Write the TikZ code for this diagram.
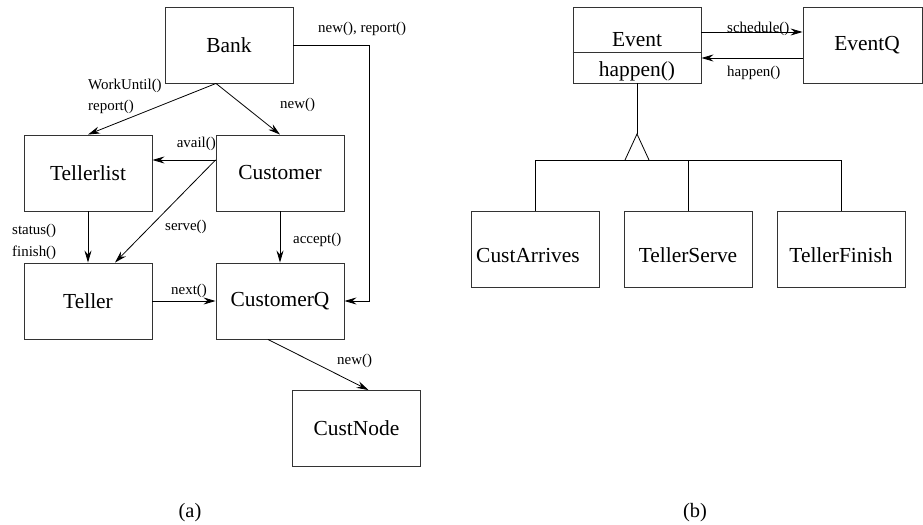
\documentclass[tikz,border=0pt]{standalone}
\usepackage{fontspec}
\setmainfont{Liberation Serif}
\usetikzlibrary{arrows.meta}
\begin{document}
\begin{tikzpicture}[x=1bp,y=-1bp,
  box/.style={draw=black!80, line width=0.9bp, minimum width=128bp, minimum height=76bp,
    inner sep=0pt, font=\fontsize{21.5}{24}\selectfont},
  lbl/.style={inner sep=0pt, font=\fontsize{15}{17}\selectfont},
  captext/.style={inner sep=0pt, font=\fontsize{20.5}{23}\selectfont},
  conn/.style={draw=black, line width=0.8bp},
  arr/.style={conn, -{Stealth[length=12bp, width=7bp, inset=4bp]}},
  hier/.style={draw=black, line width=0.8bp}]
\useasboundingbox (0,0) rectangle (923,525);

% ---------- (a) class collaboration ----------
\node[box] (bank) at (229,45) {Bank};
\node[box] (tl)   at (88,173) {Tellerlist};
\node[box] (cust) at (280,173) {Customer};
\node[box] (tel)  at (88,301) {Teller};
\node[box] (cq)   at (280,301) {CustomerQ};
\node[box] (cn)   at (356.5,428.5) {CustNode};

\coordinate (bk) at ([xshift=-13bp]bank.south);
\draw[arr] (bk) -- (tl.north);
\draw[arr] (bk) -- (cust.north);
\coordinate (cw) at ([yshift=13bp]cust.west);
\draw[arr] (cw) -- (tl.east |- cw);
\draw[arr] (cw) -- ([xshift=27bp]tel.north);
\draw[arr] (tl.south) -- (tel.north);
\draw[arr] (cust.south) -- (cq.north);
\draw[arr] (tel.east) -- (cq.west);
\coordinate (r1) at (369,45);
\coordinate (r2) at (369,301);
\draw[arr] (bank.east) -- (r1) -- (r2) -- (cq.east);
\draw[arr] ([xshift=-12bp]cq.south) -- ([xshift=12bp]cn.north);

\node[lbl, anchor=west] (l1) at (88,86) {WorkUntil()};
\node[lbl, anchor=west] (l2) at (88,107) {report()};
\node[lbl, anchor=west] (l3) at (280,105) {new()};
\node[lbl, anchor=west] (l4) at (318,29) {new(), report()};
\node[lbl, anchor=east] (l5) at (216,144) {avail()};
\node[lbl, anchor=west] (l6) at (165,227) {serve()};
\node[lbl, anchor=west] (l7) at (12,231) {status()};
\node[lbl, anchor=west] (l8) at (12,253) {finish()};
\node[lbl, anchor=west] (l9) at (293,240) {accept()};
\node[lbl, anchor=west] (l10) at (171,291) {next()};
\node[lbl, anchor=west] (l11) at (337,361) {new()};
\node[captext] (capa) at (190,513) {(a)};

% ---------- (b) event hierarchy ----------
\node[box] (ev) at (637,45) {};
\draw[line width=0.9bp, draw=black!80] ([yshift=-7bp]ev.west) -- ([yshift=-7bp]ev.east);
\node[box, draw=none, minimum width=0pt, minimum height=0pt] (evname) at (637,40) {Event};
\node[box, draw=none, minimum width=0pt, minimum height=0pt] (evop) at (637,71) {happen()};
\node[box, minimum width=119bp] (eq) at (862.5,45) {\hspace*{9bp}EventQ};

\draw[arr] ([yshift=13bp]ev.east) -- ([yshift=13bp]eq.west);
\draw[arr] ([yshift=-13bp]eq.west) -- ([yshift=-13bp]ev.east);
\node[lbl, anchor=west] (s1) at (727,29) {schedule()};
\node[lbl, anchor=west] (s2) at (727,73) {happen()};

\node[box] (ca) at (535,249.5) {\hspace*{-14bp}\raisebox{-13bp}[0pt][0pt]{CustArrives}};
\node[box] (ts) at (688,249.5) {\raisebox{-13bp}[0pt][0pt]{TellerServe}};
\node[box] (tf) at (841,249.5) {\raisebox{-13bp}[0pt][0pt]{TellerFinish}};

\coordinate (apex) at (637,134);
\coordinate (bl) at (625,160);
\coordinate (br) at (649,160);
\draw[hier] (ev.south) -- (apex);
\draw[hier] (bl) -- (apex) -- (br);
\draw[hier] (ca.north) -- (ca.north |- bl) -- (tf.north |- bl) -- (tf.north);
\draw[hier] (ts.north) -- (ts.north |- bl);
\node[captext] (capb) at (695,513) {(b)};
\end{tikzpicture}
\end{document}
